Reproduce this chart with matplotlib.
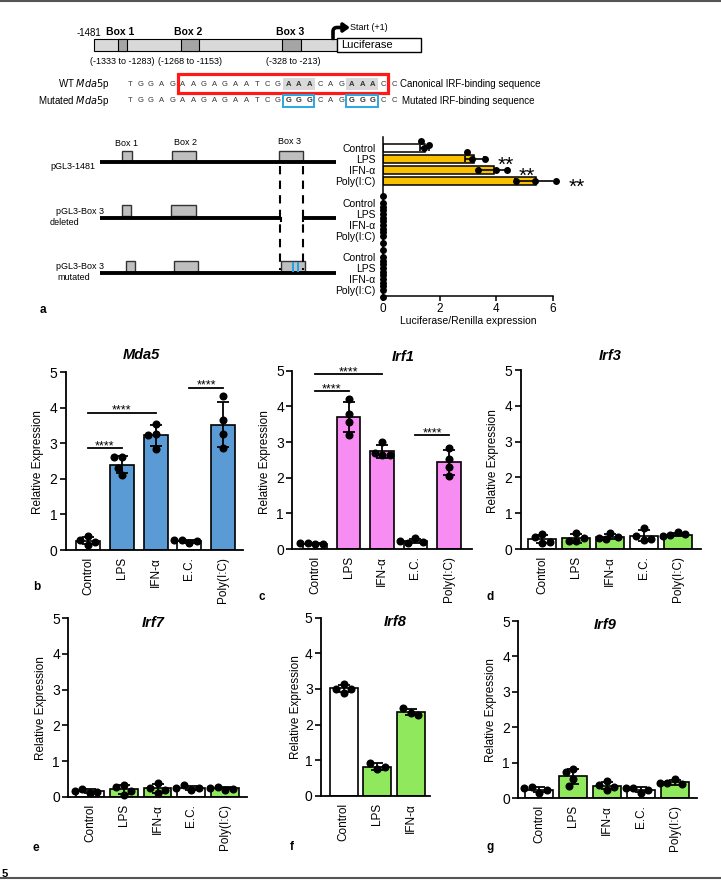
import numpy as np
import matplotlib
matplotlib.use('Agg')
import matplotlib.pyplot as plt
from matplotlib.patches import Rectangle
from matplotlib.transforms import ScaledTranslation

plt.rcParams['font.family'] = ['Liberation Sans', 'DejaVu Sans']
plt.rcParams['axes.linewidth'] = 1.1

W, H = 721, 880

# ---------------- data ----------------
# panel a: luciferase / renilla, 3 replicates per bar
luc_conds = ['Control', 'LPS', 'IFN-α', 'Poly(I:C)']
luc_1481 = [[1.43, 1.34, 1.63], [3.13, 2.95, 3.60], [3.36, 3.99, 4.36], [4.69, 5.36, 6.12]]
luc_deleted = [[0.0, 0.0, 0.0], [0.0, 0.0, 0.0], [0.0, 0.0, 0.0], [0.0, 0.0, 0.0]]
luc_mutated = [[0.0, 0.0, 0.0], [0.0, 0.0, 0.0], [0.0, 0.0, 0.0], [0.0, 0.0, 0.0]]
luc_stars = ['', '**', '**', '**']

# panels b-g: relative expression, replicates per treatment
treat = ['Control', 'LPS', 'IFN-α', 'E.C.', 'Poly(I:C)']
mda5 = [[0.38, 0.14, 0.28, 0.23], [2.1, 2.6, 2.6, 2.3], [3.27, 3.55, 2.84, 3.22],
        [0.19, 0.27, 0.26, 0.27], [4.33, 3.64, 3.25, 2.87]]
irf1 = [[0.13, 0.17, 0.15, 0.16], [4.22, 3.79, 3.56, 3.21], [2.63, 3.0, 2.7, 2.63],
        [0.32, 0.18, 0.2, 0.22], [2.84, 2.53, 2.3, 2.04]]
irf3 = [[0.17, 0.33, 0.43, 0.2], [0.46, 0.21, 0.21, 0.3], [0.44, 0.27, 0.33, 0.32],
        [0.58, 0.26, 0.37, 0.27], [0.47, 0.38, 0.42, 0.35]]
irf7 = [[0.09, 0.22, 0.12, 0.17], [0.32, 0.05, 0.28, 0.17], [0.09, 0.25, 0.39, 0.19],
        [0.19, 0.32, 0.25, 0.23], [0.2, 0.27, 0.22, 0.25]]
irf8 = [[3.15, 2.89, 3.01, 3.01], [0.74, 0.91, 0.81], [2.31, 2.45, 2.28]]
irf9 = [[0.15, 0.32, 0.22, 0.27], [0.83, 0.74, 0.55, 0.35], [0.49, 0.24, 0.36, 0.3],
        [0.13, 0.27, 0.22, 0.29], [0.55, 0.41, 0.39, 0.43]]
mda5_sig = [(0, 1, 2.86), (0, 2, 3.86), (3, 4, 4.56)]
irf1_sig = [(0, 1, 4.43), (0, 2, 4.91), (3, 4, 3.19)]

seq_wt = 'TGGAGAAGAGAATCGAAACAGAAACC'
seq_mut = 'TGGAGAAGAGAATCGGGGCAGGGGCC'
irf_sites = [15, 16, 17, 21, 22, 23]

blue = '#5B9BD5'
pink = '#F78CF2'
green = '#90E85C'
gold = '#F9C000'

fig = plt.figure(figsize=(W / 100, H / 100), dpi=100)


def px_rect(x0, y0, x1, y1):
    return [x0 / W, 1 - y1 / H, (x1 - x0) / W, (y1 - y0) / H]


def glyph_text(ax, x, y, s, fs, up_px=0, ha='center'):
    # put the centre of asterisk glyphs up_px pixels above (x, y)
    dy = (up_px - 0.58 * fs * 100 / 72) / 100
    ax.text(x, y, s, fontsize=fs, ha=ha, va='baseline', clip_on=False,
            transform=ax.transData + ScaledTranslation(0, dy, fig.dpi_scale_trans))


def swarm(vals, px_val, px_cat, d=7.5):
    placed, offs = [], []
    for v in vals:
        for k in [0, -0.5, 0.5, -1, 1, -1.5, 1.5, -2, 2]:
            o = k * d
            if all((o - po) ** 2 + ((v - pv) * px_val) ** 2 >= (0.95 * d) ** 2 for po, pv in placed):
                break
        placed.append((o, v))
        offs.append(o / px_cat)
    return np.array(offs)


# overlay in pixel coordinates for schematic / free text (kept on top)
ov = fig.add_axes([0, 0, 1, 1])
ov.set_xlim(0, W)
ov.set_ylim(H, 0)
ov.axis('off')
ov.set_zorder(10)

ov.plot([0, W], [1, 1], color='#555555', lw=1.5)
ov.plot([0, W], [878, 878], color='#555555', lw=1.5)
ov.text(2, 874, '5', fontsize=8, fontweight='bold', ha='left', va='center')

# ---- promoter schematic ----
ov.add_patch(Rectangle((94, 39), 243, 12, fc='#d9d9d9', ec='black', lw=0.8))
for a, b in [(117.7, 126.7), (180.7, 198.7), (282, 300.7)]:
    ov.add_patch(Rectangle((a, 39), b - a, 12, fc='#a5a5a5', ec='black', lw=0.8))
ov.add_patch(Rectangle((336.7, 37.7), 84.3, 14.6, fc='white', ec='black', lw=1))
ov.text(341.5, 45.5, 'Luciferase', fontsize=8, va='center')
ov.annotate('', xy=(350, 27.5), xytext=(333, 38.5),
            arrowprops=dict(arrowstyle='-|>,head_length=0.35,head_width=0.25', lw=2.6,
                            color='black', connectionstyle='angle,angleA=90,angleB=0,rad=4',
                            shrinkA=0, shrinkB=0))
ov.text(349.5, 27.5, 'Start (+1)', fontsize=6.5, va='center')
ov.text(101.5, 33, '-1481', fontsize=7, ha='right', va='center')
for xc, t in [(120.5, 'Box 1'), (188, 'Box 2'), (290.5, 'Box 3')]:
    ov.text(xc, 32, t, fontsize=7.5, fontweight='bold', ha='center', va='center')
for xc, t in [(122, '(-1333 to -1283)'), (189.7, '(-1268 to -1153)'), (293.7, '(-328 to -213)')]:
    ov.text(xc, 61, t, fontsize=6.5, ha='center', va='center')

# ---- sequences ----
ov.text(110, 84.3, 'WT $\\it{Mda5}$p', fontsize=7, ha='right', va='center')
ov.text(110, 100.7, 'Mutated $\\it{Mda5}$p', fontsize=7, ha='right', va='center')
for i in range(len(seq_wt)):
    xi = 130 + i * 10.56
    hot = i in irf_sites
    if hot:
        ov.add_patch(Rectangle((xi - 5.3, 78), 10.56, 12.5, fc='#d9d9d9', ec='none', zorder=1))
    ov.text(xi, 84.3, seq_wt[i], fontsize=5.5, ha='center', va='center', color='#333333',
            fontweight='bold' if hot else 'normal', zorder=2)
    ov.text(xi, 101, seq_mut[i], fontsize=5.5, ha='center', va='center', color='#333333',
            fontweight='bold' if hot else 'normal', zorder=2)
ov.add_patch(Rectangle((178.3, 74.5), 209.4, 19, fc='none', ec='#ff1a1a', lw=2.3, zorder=3))
for a in [282.8, 346.2]:
    ov.add_patch(Rectangle((a, 95), 31.5, 12.3, fc='none', ec='#2aa7e0', lw=1.4, zorder=3))
ov.text(400, 84.3, 'Canonical IRF-binding sequence', fontsize=7, va='center')
ov.text(401.5, 101, 'Mutated IRF-binding sequence', fontsize=7, va='center')

# ---- construct diagrams ----
box_fc, box_ec = '#bfbfbf', '#333333'
ov.plot([100, 336], [162.3, 162.3], color='black', lw=2.8, solid_capstyle='butt')
for a, b in [(122.3, 131.7), (171.7, 195.7), (279, 303.3)]:
    ov.add_patch(Rectangle((a, 151), b - a, 10.5, fc=box_fc, ec=box_ec, lw=1))
ov.plot([100, 280.7], [217.7, 217.7], color='black', lw=2.8, solid_capstyle='butt')
ov.plot([303, 336], [217.7, 217.7], color='black', lw=2.8, solid_capstyle='butt')
ov.plot([280.7, 280.7], [217.7, 221.5], color='black', lw=1.5)
ov.plot([303, 303], [217.7, 221.5], color='black', lw=1.5)
for a, b in [(122, 131.3), (171.3, 195.7)]:
    ov.add_patch(Rectangle((a, 205.5), b - a, 11, fc=box_fc, ec=box_ec, lw=1))
ov.plot([100, 336], [273.3, 273.3], color='black', lw=2.8, solid_capstyle='butt')
for a, b in [(126, 135.3), (174, 197.7), (281.3, 305)]:
    ov.add_patch(Rectangle((a, 261.5), b - a, 10.8, fc=box_fc, ec=box_ec, lw=1))
for a in [292, 296.8]:
    ov.add_patch(Rectangle((a, 262), 2.4, 10, fc='#1fa3e6', ec='none', zorder=3))
for xd in [280, 302.7]:
    ov.plot([xd, xd], [166, 270], color='black', lw=1.5, dashes=(4, 3))
ov.text(95, 166.5, 'pGL3-1481', fontsize=6.5, ha='right', va='center')
ov.text(126.7, 144, 'Box 1', fontsize=6.5, ha='center', va='center')
ov.text(185, 142.7, 'Box 2', fontsize=6.5, ha='center', va='center')
ov.text(290, 141.7, 'Box 3', fontsize=6.5, ha='center', va='center')
ov.text(104, 211, 'pGL3-Box 3', fontsize=6.5, ha='right', va='center')
ov.text(65, 222.3, 'deleted', fontsize=6.5, ha='center', va='center')
ov.text(104, 266.7, 'pGL3-Box 3', fontsize=6.5, ha='right', va='center')
ov.text(73.3, 277.3, 'mutated', fontsize=6.5, ha='center', va='center')

# ---- panel a bar chart ----
axa = fig.add_axes(px_rect(383, 137, 553, 296))
rows, means, sds, cols, labels, reps = [], [], [], [], [], []
for g, block in enumerate([luc_1481, luc_deleted, luc_mutated]):
    for i, v in enumerate(block):
        rows.append(g * 5 + i)
        means.append(np.mean(v))
        sds.append(np.std(v, ddof=1))
        cols.append('white' if i == 0 else gold)
        labels.append(luc_conds[i])
        reps.append(v)
axa.barh(rows, means, height=0.75, color=cols, edgecolor='black', linewidth=1.1, zorder=2)
axa.errorbar(means, rows, xerr=sds, fmt='none', ecolor='black', elinewidth=1.2,
             capsize=2.5, capthick=1.2, zorder=3)
for r, v in zip(rows, reps):
    axa.plot(v, r + swarm(v, 28.3, 10.9, d=7), 'o', color='black', ms=5, mew=0,
             zorder=4, clip_on=False)
for i, s in enumerate(luc_stars):
    if s:
        glyph_text(axa, max(luc_1481[i]) + 0.72, rows[i], s, 15)
axa.set_xlim(0, 6)
axa.set_ylim(13.55, -1.04)
axa.set_yticks(rows, labels)
axa.set_xticks([0, 2, 4, 6])
axa.spines[['top', 'right']].set_visible(False)
axa.tick_params(axis='y', length=0, labelsize=7.5, pad=5.5)
axa.tick_params(axis='x', length=3.5, width=1.1, labelsize=8.5, pad=1.5)
axa.set_xlabel('Luciferase/Renilla expression', fontsize=7.5, labelpad=1)


# ---- panels b-g ----
def gene_panel(box, vals, colors, width, xlim, title, title_xy, ylab_xy, sig=()):
    x0, y0, x1, y1 = box
    ax = fig.add_axes(px_rect(x0, y0, x1, y1))
    pos = np.arange(len(vals))
    m = [np.mean(v) for v in vals]
    sd = [np.std(v, ddof=1) for v in vals]
    ax.bar(pos, m, width, color=colors, edgecolor='black', linewidth=1.2, zorder=2)
    ax.errorbar(pos, m, yerr=sd, fmt='none', ecolor='black', elinewidth=1.3,
                capsize=4.5, capthick=1.3, zorder=3)
    px_val = (y1 - y0) / 5
    px_cat = (x1 - x0) / (xlim[1] - xlim[0])
    for p, v in zip(pos, vals):
        ax.plot(p + swarm(v, px_val, px_cat), v, 'o', color='black', ms=5.8, mew=0,
                zorder=4, clip_on=False)
    for i, j, h in sig:
        ax.plot([i, j], [h, h], color='black', lw=1.3, clip_on=False)
        glyph_text(ax, (i + j) / 2, h, '****', 9, up_px=6)
    ax.set_xlim(*xlim)
    ax.set_ylim(0, 5)
    ax.set_yticks(range(6))
    ax.set_xticks(pos, treat[:len(vals)], rotation=90)
    ax.spines[['top', 'right']].set_visible(False)
    ax.spines[['left', 'bottom']].set_linewidth(1.3)
    ax.tick_params(axis='y', length=4, width=1.2, labelsize=10, pad=2)
    ax.tick_params(axis='x', length=0, labelsize=8.5, pad=5)
    ov.text(*title_xy, title, fontsize=10.5, fontstyle='italic', fontweight='bold',
            ha='center', va='center')
    ov.text(*ylab_xy, 'Relative Expression', fontsize=8.5, rotation=90,
            ha='center', va='center')
    return ax


def cols5(c):
    return ['white', c, c, 'white', c]


gene_panel((65.7, 372, 243, 550), mda5, cols5(blue), 0.71, (-0.66, 4.59), 'Mda5',
           (141.7, 355), (38.3, 462), mda5_sig)
gene_panel((292.3, 370.7, 471.7, 549), irf1, cols5(pink), 0.71, (-0.68, 4.68), 'Irf1',
           (403, 356.7), (265, 461.7), irf1_sig)
gene_panel((520.7, 370, 700.7, 549), irf3, cols5(green), 0.82, (-0.63, 4.67), 'Irf3',
           (610, 356), (492.7, 461))
gene_panel((68.3, 618.3, 246.7, 796.7), irf7, cols5(green), 0.82, (-0.64, 4.64), 'Irf7',
           (153, 623), (40.7, 708))
gene_panel((321, 617.7, 430, 795.7), irf8, ['white', green, green], 0.83, (-0.68, 2.57), 'Irf8',
           (395, 621.7), (295.7, 706.7))
gene_panel((518.3, 621, 696.7, 798), irf9, cols5(green), 0.82, (-0.61, 4.64), 'Irf9',
           (605, 625), (490.7, 710))

for t, xy in [('a', (43, 310)), ('b', (37, 587)), ('c', (262, 597)), ('d', (490, 597)),
              ('e', (36, 848)), ('f', (292, 847)), ('g', (490, 847))]:
    ov.text(*xy, t, fontsize=8.5, fontweight='bold', ha='center', va='center')

fig.savefig('out.png', dpi=100)
